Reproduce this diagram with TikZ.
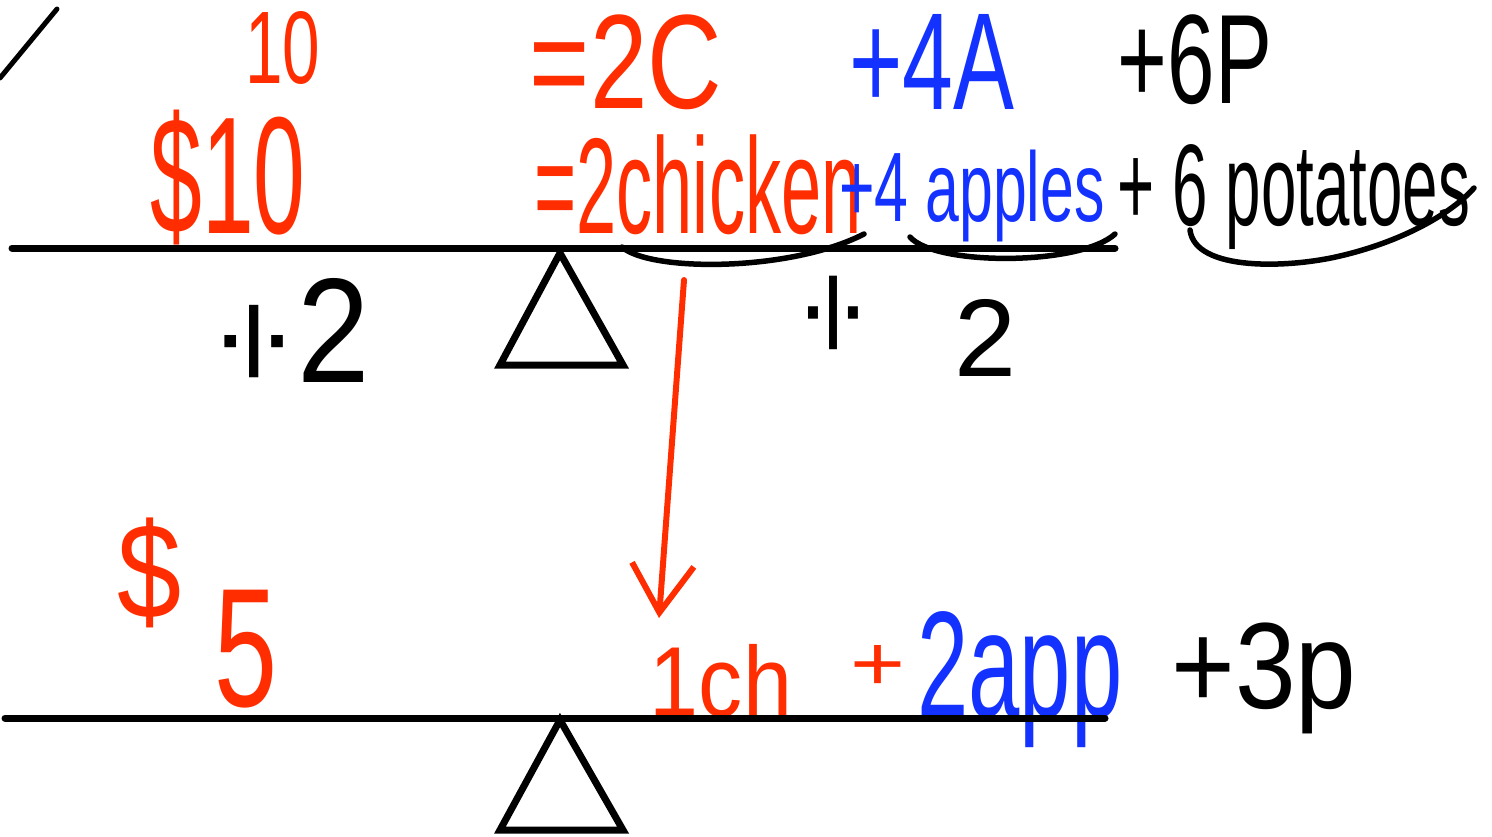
\documentclass[tikz,border=0pt]{standalone}
\usepackage{fontspec}
\setmainfont{Liberation Sans}
\usepackage{graphicx}
\usetikzlibrary{arrows.meta}
\definecolor{inkred}{RGB}{255,45,0}
\definecolor{inkblue}{RGB}{20,50,255}
\newcommand{\ink}[3]{\resizebox*{#1pt}{#2pt}{#3}}
\newcommand{\divsign}{\rotatebox{90}{÷}}

\begin{document}
\begin{tikzpicture}[
    x=1pt, y=-1pt,
    hand/.style={inner sep=0pt, outer sep=0pt, text=#1},
    beam/.style={line width=7pt, line cap=round, black},
    fulcrum/.style={line width=7pt, black, line join=miter},
    brace/.style={line width=5.5pt, line cap=round, black},
    pointer/.style={-{Straight Barb[length=48pt,width=62pt]}, line width=6pt, inkred, line cap=round}
  ]
  \useasboundingbox (0,0) rectangle (1492,836);

  % Stray stroke
  \draw[beam, line width=5pt] (0,78) -- (57,9);

  % Short form
  \node[hand=inkred] (topten) at (283,48) {\ink{75}{73}{10}};
  \node[hand=inkred] (toptwoc) at (626,62) {\ink{192}{95}{=2C}};
  \node[hand=inkblue] (topfoura) at (932,62) {\ink{165}{95}{+4A}};
  \node[hand=black] (topsixp) at (1195,60) {\ink{154}{90}{+6P}};

  % Long form
  \node[hand=inkred] (dollarten) at (228,178) {\ink{155}{135}{\$10}};
  \node[hand=inkred] (chicken) at (698,185) {\ink{327}{100}{=2chicken}};
  \node[hand=inkblue] (apples) at (972,196) {\ink{265}{92}{+4 apples}};
  \node[hand=black] (potatoes) at (1294,197) {\ink{352}{105}{+ 6 potatoes}};

  % Upper balance
  \draw[beam] (12,248) -- (1115,248);
  \draw[fulcrum] (560,253) -- (500,365) -- (623,365) -- cycle;

  % Braces
  \draw[brace] (622,247) .. controls (650,272) and (790,272) .. (864,234);
  \draw[brace] (910,237) .. controls (935,266) and (1080,266) .. (1115,234);
  \draw[brace] (1190,230) .. controls (1195,272) and (1290,268) .. (1340,256)
               .. controls (1400,242) and (1450,215) .. (1474,188);

  % Halving
  \node[hand=black] (halfleft) at (297,330) {\ink{145}{104}{\divsign 2}};
  \node[hand=black] (divright) at (839,313) {\ink{62}{83}{\divsign}};
  \node[hand=black] (tworight) at (986,338) {\ink{62}{77}{2}};

  % Lower balance
  \node[hand=inkred] (dollar) at (150,573) {\ink{64}{110}{\$}};
  \node[hand=inkred] (five) at (246,649) {\ink{63}{118}{5}};
  \node[hand=inkred] (onech) at (721,681) {\ink{142}{73}{1ch}};
  \node[hand=inkred] (redplus) at (878,668) {\ink{55}{45}{+}};
  \node[hand=inkblue] (twoapp) at (1020,680) {\ink{205}{136}{2app}};
  \node[hand=black] (threep) at (1264,678) {\ink{185}{111}{+3p}};

  \draw[beam] (5,718) -- (1105,718);
  \draw[fulcrum] (560,720) -- (500,830) -- (623,830) -- cycle;

  % Arrow
  \coordinate (arrowstart) at (684,280);
  \coordinate (arrowtip) at (659,618);
  \draw[pointer] (arrowstart) -- (arrowtip);

\end{tikzpicture}
\end{document}
